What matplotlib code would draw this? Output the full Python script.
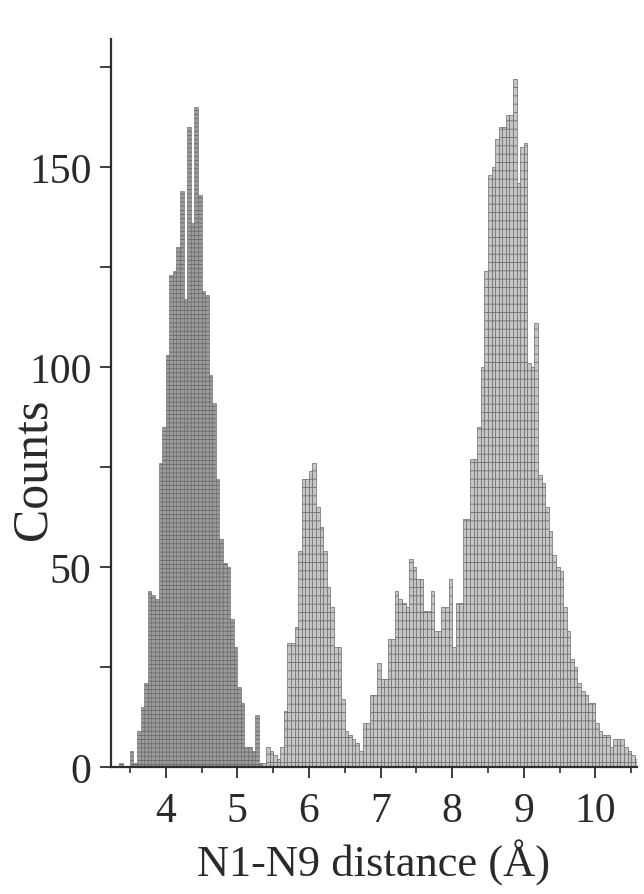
import matplotlib
matplotlib.use('Agg')
import matplotlib.pyplot as plt
from matplotlib.ticker import MultipleLocator, FixedLocator
import numpy as np

# ---- data (histogram counts, bin width 0.05 Å) ----
bin_width = 0.05
dark_start = 3.35
dark_counts = [1, 0, 0, 4, 1, 9, 15, 21, 44, 43,
               42, 76, 85, 103, 123, 124, 130, 144, 117, 160,
               136, 165, 143, 119, 118, 98, 91, 72, 57, 51,
               50, 37, 30, 20, 16, 5, 5, 4, 13, 1]
light_start = 5.35
light_counts = [1, 5, 4, 3, 2, 5, 14, 31, 31, 35,
                54, 72, 72, 74, 76, 65, 60, 54, 45, 40,
                30, 30, 17, 9, 8, 7, 6, 4, 11, 11,
                18, 18, 26, 22, 22, 32, 32, 44, 42, 41,
                40, 52, 50, 47, 47, 39, 39, 44, 34, 34,
                40, 40, 47, 30, 41, 41, 62, 62, 77, 77,
                85, 100, 124, 148, 150, 157, 160, 160, 163, 163,
                172, 146, 155, 156, 101, 100, 111, 73, 71, 65,
                59, 53, 50, 49, 40, 34, 27, 25, 21, 19,
                18, 16, 16, 11, 9, 8, 8, 5, 7, 7,
                7, 5, 4, 3, 2]
x_major = [4, 5, 6, 7, 8, 9, 10]
y_major = [0, 50, 100, 150]
y_minor = [25, 75, 125, 175]

plt.rcParams['font.family'] = ['Liberation Serif', 'DejaVu Serif']
plt.rcParams['hatch.linewidth'] = 0.6

W, H = 644, 895
fig = plt.figure(figsize=(W / 100, H / 100), dpi=100)
ax = fig.add_axes([111 / W, (H - 768) / H, (637 - 111) / W, (768 - 40) / H])

dark_x = dark_start + bin_width * np.arange(len(dark_counts))
light_x = light_start + bin_width * np.arange(len(light_counts))

ax.bar(dark_x, dark_counts, width=bin_width, align='edge',
       color='#9c9c9c', edgecolor='#666666', linewidth=0.4, hatch='----')
ax.bar(light_x, light_counts, width=bin_width, align='edge',
       color='#c6c6c6', edgecolor='#6a6a6a', linewidth=0.5, hatch='--')

ax.set_xlim(3.236, 10.582)
ax.set_ylim(0, 182)

for s in ['top', 'right']:
    ax.spines[s].set_visible(False)
for s in ['left', 'bottom']:
    ax.spines[s].set_linewidth(1.6)
    ax.spines[s].set_color('#2e2e2e')

ax.xaxis.set_major_locator(FixedLocator(x_major))
ax.xaxis.set_minor_locator(MultipleLocator(0.5))
ax.yaxis.set_major_locator(FixedLocator(y_major))
ax.yaxis.set_minor_locator(FixedLocator(y_minor))

txt = '#2a2a2a'
ax.tick_params(axis='both', which='major', direction='out', length=8,
               width=1.3, color='#2e2e2e', labelsize=30, labelcolor=txt)
ax.tick_params(axis='x', which='minor', direction='out', length=4.5,
               width=1.2, color='#2e2e2e')
ax.tick_params(axis='y', which='minor', direction='out', length=8,
               width=1.3, color='#2e2e2e')
ax.tick_params(axis='x', which='major', pad=10)
ax.tick_params(axis='y', which='major', pad=6)

ax.set_xlabel('N1-N9 distance (Å)', fontsize=32, color=txt, labelpad=6)
ax.set_ylabel('Counts', fontsize=36, color=txt)
ax.yaxis.set_label_coords(-0.104, 0.41)

fig.savefig('out.png', dpi=100)
